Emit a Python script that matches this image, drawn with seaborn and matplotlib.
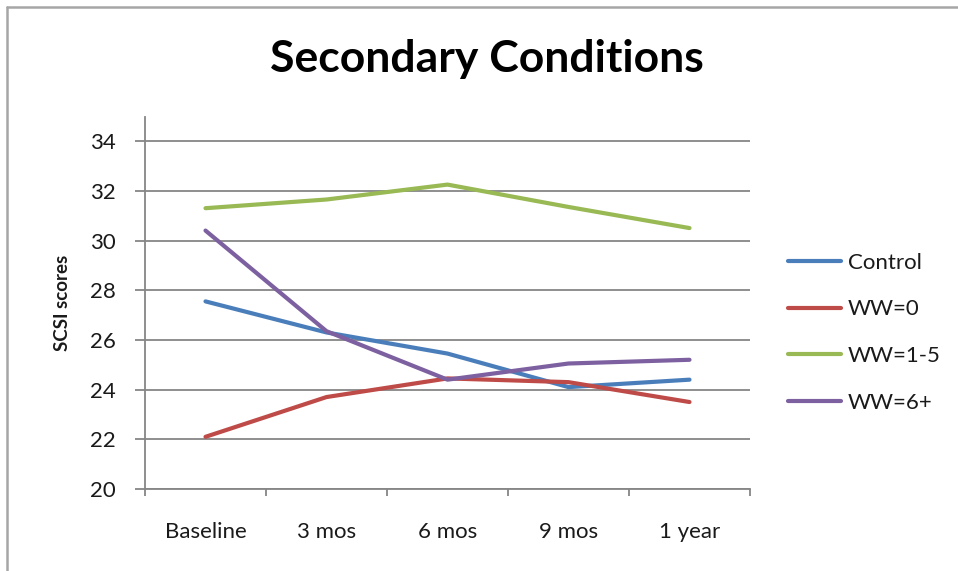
import numpy as np
import pandas as pd
import matplotlib.pyplot as plt
import seaborn as sns
from matplotlib.lines import Line2D

# data
timepoints = ["Baseline", "3 mos", "6 mos", "9 mos", "1 year"]
control = [27.55, 26.3, 25.45, 24.1, 24.4]
ww_0 = [22.1, 23.7, 24.45, 24.3, 23.5]
ww_1_5 = [31.3, 31.65, 32.25, 31.35, 30.5]
ww_6plus = [30.4, 26.35, 24.4, 25.05, 25.2]
groups = ["Control", "WW=0", "WW=1-5", "WW=6+"]
colors = ["#4A7EBB", "#BE4B48", "#98B954", "#7D60A0"]

df = pd.DataFrame({
    "Time": timepoints * 4,
    "Score": control + ww_0 + ww_1_5 + ww_6plus,
    "Group": np.repeat(groups, len(timepoints)),
})

sns.set_style("white")
plt.rcParams["font.family"] = ["Lato", "DejaVu Sans"]

fig = plt.figure(figsize=(9.58, 5.71), dpi=100)
ax = fig.add_axes([145 / 958, 1 - 489 / 571, 605 / 958, 372 / 571])

sns.lineplot(data=df, x="Time", y="Score", hue="Group", palette=colors,
             linewidth=3, ax=ax, sort=False)

grid_col = "#868686"
txt_col = "#1a1a1a"
ax.set_ylim(20, 34.97)
ax.set_yticks(np.arange(20, 35, 2))
ax.set_xlim(-0.5, 4.5)
ax.set_xticks(np.arange(-0.5, 5, 1), minor=False)
ax.set_xticklabels([])
ax.set_xticks(range(5), minor=True)
ax.set_xticklabels(timepoints, minor=True)
for y in range(20, 35, 2):
    ax.axhline(y, color=grid_col, lw=1.3, zorder=0)

for s in ["top", "right"]:
    ax.spines[s].set_visible(False)
for s in ["left", "bottom"]:
    ax.spines[s].set_color(grid_col)
    ax.spines[s].set_linewidth(1.3)
ax.tick_params(axis="y", which="major", length=7, width=1.3, color=grid_col,
               direction="out", left=True, labelsize=16, pad=14, labelcolor=txt_col)
ax.tick_params(axis="x", which="major", length=5, width=1.3, color=grid_col,
               direction="out", bottom=True)
ax.tick_params(axis="x", which="minor", length=0, labelsize=16, pad=24,
               labelcolor=txt_col)

ax.set_xlabel("")
ax.set_ylabel("SCSI scores", fontsize=13.5, fontweight="bold", labelpad=14,
              color=txt_col)
fig.text(0.508, 0.897, "Secondary Conditions", ha="center", va="center",
         fontsize=32, fontweight="bold", color="black")

ax.legend(loc="center left", bbox_to_anchor=(1.03, 0.42), frameon=False,
          fontsize=16, handlelength=2.4, labelspacing=1.2, handletextpad=0.3,
          labelcolor=txt_col)

# outer chart border (top and left edges visible)
fig.add_artist(Line2D([7 / 958, 7 / 958], [0, 1 - 7 / 571], color="#a6a6a6",
                      lw=1.8, transform=fig.transFigure))
fig.add_artist(Line2D([7 / 958, 1], [1 - 7 / 571, 1 - 7 / 571], color="#a6a6a6",
                      lw=1.8, transform=fig.transFigure))

plt.savefig("out.png", dpi=100)
